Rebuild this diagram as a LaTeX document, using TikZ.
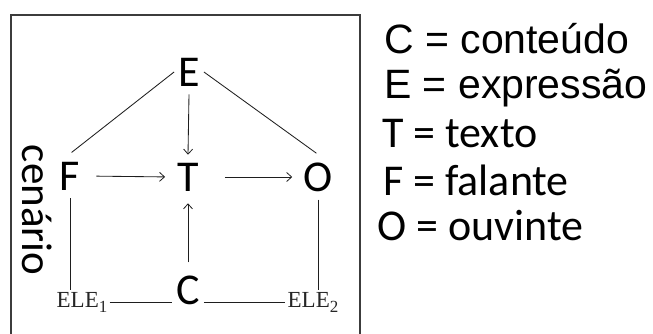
\documentclass[tikz,border=0pt]{standalone}
\usepackage{fontspec}
\setmainfont{Liberation Sans}
\newfontfamily\calibri{Carlito}
\newfontfamily\timesf{Liberation Serif}
\usepackage{xcolor}
\usepackage{tikz}
\usetikzlibrary{arrows.meta,positioning,calc}
\definecolor{semiotraco}{HTML}{1E1E1E}
\definecolor{semiomoldura}{HTML}{3C3C3C}
\newcommand{\indice}[1]{\raisebox{-5pt}{\fontsize{17}{17}\selectfont #1}}

\tikzset{
  letra/.style={font=\calibri\fontsize{44}{46}\selectfont,inner xsep=4pt,inner ysep=8pt,text=black},
  ele/.style={font=\timesf\fontsize{23}{25}\selectfont,inner sep=2pt,text=black!85,anchor=base},
  legenda/.style={anchor=base west,inner sep=0pt,text=black},
  liga/.style={semiotraco,line width=0.85pt},
  seta/.style={liga,-{Straight Barb[length=5pt,width=9pt,line width=0.8pt]}}
}

\begin{document}
\begin{tikzpicture}[x=1pt,y=-1pt]
  \useasboundingbox (0,0) rectangle (653,333);

  % Moldura
  \draw[semiomoldura,line width=1.4pt] (11,15) rectangle (360,345);

  % Vértices
  \node[letra] (E) at (189,72) {E};
  \node[letra] (F) at (70,176) {F};
  \node[letra] (T) at (188,177) {T};
  \node[letra] (O) at (318,177) {O};
  \node[letra] (C) at (188,290) {C};
  \node[ele] (ele1) at (82,307) {ELE\indice{1}};
  \node[ele] (ele2) at (313,307) {ELE\indice{2}};
  \node[rotate=-90,anchor=base,inner sep=0pt,
        font=\calibri\fontsize{43}{45}\selectfont] (cenario) at (23,210) {cenário};

  % Ligações
  \draw[liga,shorten >=2pt] (E.west) -- (F.north);
  \draw[liga,shorten >=2pt] (E.east) -- (O.north);
  \draw[seta] (E.south) -- (T.north);
  \draw[seta,shorten <=12pt,shorten >=8pt] (F.east) -- (T.west);
  \draw[seta,shorten <=22pt,shorten >=7pt] (T.east) -- (O.west);
  \draw[seta,shorten <=5pt,shorten >=4pt] (C.north) -- (T.south);
  \draw[liga] (F.south) -- (F.south |- ele1.north);
  \draw[liga] (O.south) -- (O.south |- ele2.north);
  \draw[liga] (ele1.east) -- (ele1.east -| C.west);
  \draw[liga] (ele2.west -| C.east) -- (ele2.west);

  % Legenda
  \node[legenda,font=\fontsize{41}{43}\selectfont] (legC) at (384,53) {C = conteúdo};
  \node[legenda,font=\fontsize{41}{43}\selectfont] (legE) at (384,98) {E = expressão};
  \node[legenda,font=\calibri\fontsize{44}{46}\selectfont] (legT) at (382,147) {T = texto};
  \node[legenda,font=\calibri\fontsize{44}{46}\selectfont] (legF) at (383,195) {F = falante};
  \node[legenda,font=\calibri\fontsize{44}{46}\selectfont] (legO) at (377,240) {O = ouvinte};

\end{tikzpicture}
\end{document}
